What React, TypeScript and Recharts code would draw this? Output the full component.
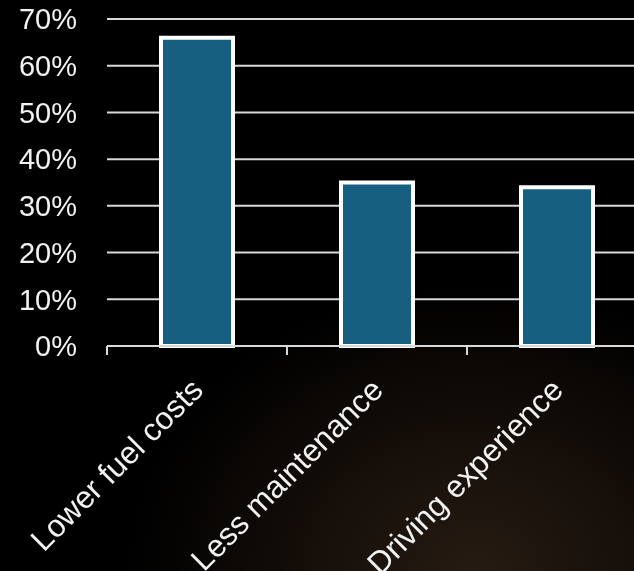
import { BarChart, Bar, XAxis, YAxis, CartesianGrid } from 'recharts'

const categories = ['Lower fuel costs', 'Less maintenance', 'Driving experience']
const shares = [66, 35, 34]
const yTicks = [0, 10, 20, 30, 40, 50, 60, 70]

const data = categories.map((name, i) => ({ name, share: shares[i] }))

const FONT = '"Liberation Sans", Arial, sans-serif'
const GRID = '#d9d9d9'
const CHART_W = 647
const AXIS_W = 107
const BAND = (CHART_W - AXIS_W) / categories.length

// tick mark on the left edge of each band, label rotated around its end under the centre
const CatTick = ({ x, y, payload }: any) => {
  const ly = y + 38
  return (
    <g>
      <line x1={x - BAND / 2} y1={y} x2={x - BAND / 2} y2={y + 9} stroke={GRID} strokeWidth={2} />
      <text
        x={x}
        y={ly}
        dy="0.35em"
        textAnchor="end"
        transform={`rotate(-45, ${x}, ${ly})`}
        fill="#f2f2f2"
        fontSize={31.5}
        fontFamily={FONT}
      >
        {payload.value}
      </text>
    </g>
  )
}

export default function App() {
  return (
    <div
      style={{
        position: 'fixed', left: 0, top: 0, width: 634, height: 571, overflow: 'hidden',
        background: 'radial-gradient(ellipse 55% 50% at 75% 100%, #261b12 0%, #120c08 55%, #000 100%)',
      }}
    >
      <BarChart width={CHART_W} height={571} data={data} margin={{ top: 19, right: 0, left: 0, bottom: 0 }} barCategoryGap="30%">
        <CartesianGrid vertical={false} stroke={GRID} strokeWidth={2} />
        <XAxis
          dataKey="name"
          height={225}
          interval={0}
          tickLine={false}
          tickSize={0}
          tickMargin={0}
          stroke={GRID}
          strokeWidth={2}
          tick={<CatTick />}
        />
        <YAxis
          width={AXIS_W}
          domain={[0, 70]}
          ticks={yTicks}
          axisLine={false}
          tickLine={false}
          tickSize={0}
          tickMargin={30}
          tickFormatter={(v: number) => `${v}%`}
          tick={{ fill: '#f2f2f2', fontSize: 29, fontFamily: FONT }}
        />
        <Bar dataKey="share" fill="#175f80" stroke="#ffffff" strokeWidth={4} isAnimationActive={false} />
      </BarChart>
    </div>
  )
}
